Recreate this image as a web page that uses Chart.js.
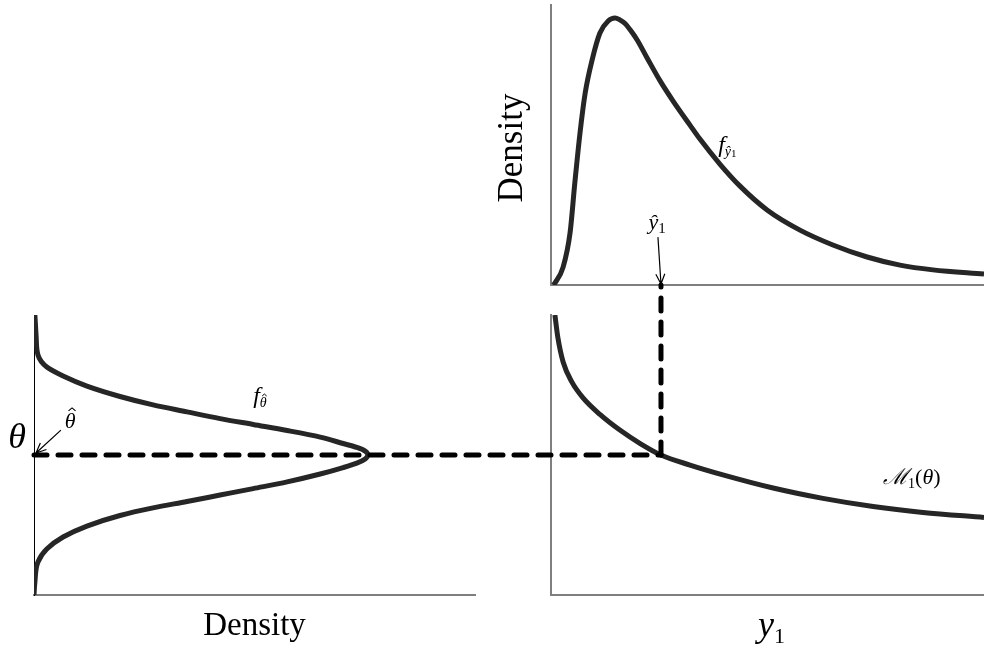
<!DOCTYPE html>
<html lang="en">
<head>
<meta charset="UTF-8">
<title>Density propagation sketch</title>
<script src="https://cdn.jsdelivr.net/npm/chart.js"></script>
<style>
  html, body { margin: 0; padding: 0; background: #fff; }
  .stage { position: relative; width: 984px; height: 648px; overflow: hidden; }
  .stage canvas { position: absolute; left: 0; top: 0; }
</style>
</head>
<body>
<div class="stage">
  <canvas id="leftChart" width="984" height="648"></canvas>
  <canvas id="topChart" width="984" height="648"></canvas>
  <canvas id="rightChart" width="984" height="648"></canvas>
</div>
<script>
// top-right panel: density of y1-hat
const topY1 = [0.5, 0.9, 2.8, 4.4, 5.5, 6.7, 7.9, 9.5, 11.3, 13.2, 14.8, 15.9, 17.1, 18.2, 19.9, 22.2, 25.2, 28.2, 32.1, 34.4, 39.0, 43.6, 49.9, 57.5, 65.1, 73.0, 80.6, 88.2, 100];
const topDensity = [0, 0.7, 6.4, 18.6, 36.4, 54.3, 68.6, 80.4, 90.0, 94.3, 95.4, 94.7, 93.4, 91.3, 87.5, 81.1, 72.9, 65.7, 57.1, 52.1, 43.2, 35.4, 26.8, 19.6, 14.3, 10.0, 7.1, 5.4, 3.9];

// bottom-left panel: density of theta-hat, drawn sideways
const leftTheta = [0, 4.6, 11.8, 16.4, 20.7, 24.6, 28.4, 31.1, 33.4, 35.7, 38.0, 40.4, 43.2, 45.5, 47.1, 48.6, 50, 51.4, 52.7, 54.1, 56.4, 58.75, 60.9, 63.0, 65.4, 67.9, 70.9, 74.6, 78.2, 81.4, 85.7, 91.8, 100];
const leftDensity = [0, 0.2, 0.9, 2.9, 6.6, 12.0, 19.5, 27.0, 34.7, 42.2, 49.7, 57.4, 64.9, 70.1, 73.2, 75.1, 75.7, 75.1, 73.2, 70.1, 64.9, 57.4, 49.7, 42.2, 34.7, 27.0, 19.5, 12.0, 6.6, 2.9, 0.9, 0.5, 0.2];

// bottom-right panel: M1(theta)
const rightY1 = [0.9, 1.6, 2.8, 4.8, 7.4, 11.3, 15.9, 20.6, 25.4, 32.1, 39.7, 51.3, 62.8, 74.4, 85.9, 100];
const rightTheta = [100, 91.8, 83.2, 76.1, 70.4, 64.5, 58.9, 54.1, 50, 46.4, 42.9, 38.2, 34.5, 31.6, 29.5, 27.7];

const thetaHat = 50;
const y1Hat = 25.4;

const SERIF = '"Liberation Serif", "DejaVu Serif", serif';
const CURVE = '#262626';
const grayAxis = { display: true, color: '#7f7f7f', width: 2 };
const blackAxis = { display: true, color: '#000000', width: 1 };

function axis(border) {
  return {
    type: 'linear', min: 0, max: 100,
    grid: { display: false, drawTicks: false },
    ticks: { display: false },
    border,
    afterFit: s => { if (s.isHorizontal()) s.height = 0; else s.width = 0; }
  };
}

function curve(xs, ys) {
  return {
    data: xs.map((x, i) => ({ x, y: ys[i] })),
    borderColor: CURVE,
    borderWidth: 5,
    pointRadius: 0,
    fill: false,
    cubicInterpolationMode: 'monotone'
  };
}

function baseOptions(padding, xBorder, yBorder) {
  return {
    responsive: false,
    animation: false,
    events: [],
    layout: { padding },
    plugins: { legend: { display: false }, tooltip: { enabled: false } },
    scales: { x: axis(xBorder), y: axis(yBorder) }
  };
}

// draw a run of text pieces left to right: {t, size, italic, dy, hat}
function mathText(ctx, x, y, pieces) {
  let cx = x;
  pieces.forEach(p => {
    ctx.font = (p.italic ? 'italic ' : '') + p.size + 'px ' + SERIF;
    const w = ctx.measureText(p.t).width;
    const by = y + (p.dy || 0);
    ctx.fillText(p.t, cx, by);
    if (p.hat) {
      const hx = cx + w / 2 + p.size * 0.08;
      const base = by - p.size * 0.78;
      ctx.save();
      ctx.lineWidth = Math.max(1, p.size * 0.05);
      ctx.beginPath();
      ctx.moveTo(hx - p.size * 0.16, base);
      ctx.lineTo(hx, base - p.size * 0.14);
      ctx.lineTo(hx + p.size * 0.16, base);
      ctx.stroke();
      ctx.restore();
    }
    cx += w;
  });
  return cx - x;
}

function arrow(ctx, x1, y1, x2, y2) {
  const a = Math.atan2(y2 - y1, x2 - x1);
  const len = 11, spread = 0.42;
  ctx.save();
  ctx.strokeStyle = '#000';
  ctx.lineWidth = 1.2;
  ctx.beginPath();
  ctx.moveTo(x1, y1);
  ctx.lineTo(x2, y2);
  ctx.moveTo(x2 - len * Math.cos(a - spread), y2 - len * Math.sin(a - spread));
  ctx.lineTo(x2, y2);
  ctx.lineTo(x2 - len * Math.cos(a + spread), y2 - len * Math.sin(a + spread));
  ctx.stroke();
  ctx.restore();
}

// Left panel
const leftChart = new Chart(document.getElementById('leftChart'), {
  type: 'line',
  data: { datasets: [curve(leftDensity, leftTheta)] },
  options: Object.assign(baseOptions({ left: 34, right: 509, top: 315, bottom: 53 }, grayAxis, blackAxis), { indexAxis: 'y' }),
  plugins: [{
    id: 'leftText',
    afterDraw(chart) {
      const { ctx, chartArea: a, scales: { x, y } } = chart;
      ctx.save();
      ctx.fillStyle = '#000';
      ctx.strokeStyle = '#000';
      ctx.textBaseline = 'alphabetic';
      // axis titles
      ctx.font = '33px ' + SERIF;
      ctx.textAlign = 'center';
      ctx.fillText('Density', (a.left + a.right) / 2, a.bottom + 40);
      ctx.font = 'italic 36px ' + SERIF;
      ctx.textAlign = 'right';
      ctx.fillText('\u03B8', a.left - 8, y.getPixelForValue(thetaHat) - 7);
      ctx.textAlign = 'left';
      // f_theta-hat
      mathText(ctx, x.getPixelForValue(49.7), y.getPixelForValue(68.6), [
        { t: 'f', size: 24, italic: true },
        { t: '\u03B8', size: 14, italic: true, dy: 4, hat: true }
      ]);
      // theta-hat with arrow
      mathText(ctx, x.getPixelForValue(7.0), y.getPixelForValue(59.6), [
        { t: '\u03B8', size: 22, italic: true, hat: true }
      ]);
      arrow(ctx, x.getPixelForValue(6.1), y.getPixelForValue(58.9),
        x.getPixelForValue(0) + 2, y.getPixelForValue(thetaHat) - 2);
      ctx.restore();
    }
  }]
});

// Top-right panel
const topChart = new Chart(document.getElementById('topChart'), {
  type: 'line',
  data: { datasets: [curve(topY1, topDensity)] },
  options: baseOptions({ left: 551, right: 0, top: 5, bottom: 363 }, grayAxis, grayAxis),
  plugins: [{
    id: 'topText',
    afterDraw(chart) {
      const { ctx, chartArea: a, scales: { x, y } } = chart;
      ctx.save();
      ctx.fillStyle = '#000';
      ctx.strokeStyle = '#000';
      ctx.textBaseline = 'alphabetic';
      ctx.font = '35px ' + SERIF;
      ctx.textAlign = 'center';
      ctx.translate(a.left - 29, (a.top + a.bottom) / 2 + 3);
      ctx.rotate(-Math.PI / 2);
      ctx.fillText('Density', 0, 0);
      ctx.setTransform(1, 0, 0, 1, 0, 0);
      ctx.textAlign = 'left';
      mathText(ctx, x.getPixelForValue(38.6), y.getPixelForValue(47.5), [
        { t: 'f', size: 24, italic: true },
        { t: '\u0177', size: 14, italic: true, dy: 4 },
        { t: '1', size: 11, dy: 5 }
      ]);
      mathText(ctx, x.getPixelForValue(22.5), y.getPixelForValue(20.0), [
        { t: '\u0177', size: 22, italic: true },
        { t: '1', size: 15, dy: 4 }
      ]);
      arrow(ctx, x.getPixelForValue(24.7), y.getPixelForValue(17.1),
        x.getPixelForValue(y1Hat), y.getPixelForValue(0) - 1);
      ctx.restore();
    }
  }]
});

// Bottom-right panel, plus the dashed connectors across panels
const rightChart = new Chart(document.getElementById('rightChart'), {
  type: 'line',
  data: { datasets: [curve(rightY1, rightTheta)] },
  options: baseOptions({ left: 551, right: 0, top: 315, bottom: 53 }, grayAxis, grayAxis),
  plugins: [{
    id: 'rightText',
    afterDraw(chart) {
      const { ctx, chartArea: a, scales: { x, y } } = chart;
      ctx.save();
      ctx.fillStyle = '#000';
      ctx.textBaseline = 'alphabetic';
      ctx.textAlign = 'left';
      mathText(ctx, x.getPixelForValue(76.7), y.getPixelForValue(39.6), [
        { t: '\u2133', size: 22, italic: true },
        { t: '1', size: 14, dy: 4 },
        { t: '(', size: 22 },
        { t: '\u03B8', size: 22, italic: true },
        { t: ')', size: 22 }
      ]);
      // y1 axis title
      ctx.font = 'italic 36px ' + SERIF;
      const wy = ctx.measureText('y').width;
      ctx.font = '22px ' + SERIF;
      const w1 = ctx.measureText('1').width;
      mathText(ctx, (a.left + a.right) / 2 + 4 - (wy + w1) / 2, a.bottom + 41, [
        { t: 'y', size: 36, italic: true },
        { t: '1', size: 22, dy: 7 }
      ]);

      // dashed connectors
      const px = x.getPixelForValue(y1Hat);
      const py = y.getPixelForValue(thetaHat);
      const x0 = leftChart.scales.x.getPixelForValue(0);
      const yTop = topChart.scales.y.getPixelForValue(0);
      ctx.strokeStyle = '#000';
      ctx.lineWidth = 5;
      ctx.lineCap = 'round';
      ctx.setLineDash([13, 11]);
      ctx.beginPath();
      ctx.moveTo(x0, py);
      ctx.lineTo(px, py);
      ctx.stroke();
      ctx.beginPath();
      ctx.moveTo(px, py);
      ctx.lineTo(px, yTop);
      ctx.stroke();
      ctx.restore();
    }
  }]
});
</script>
</body>
</html>
